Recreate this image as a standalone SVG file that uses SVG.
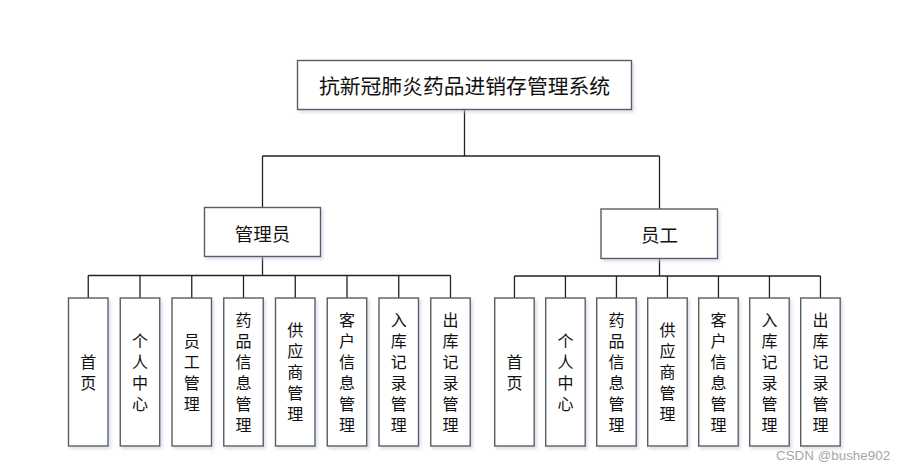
<svg xmlns="http://www.w3.org/2000/svg" width="905" height="471" viewBox="0 0 905 471">
<defs>
<filter id="sh" x="-20%" y="-20%" width="150%" height="150%">
<feDropShadow dx="2" dy="2.5" stdDeviation="1.8" flood-color="#b9c8e0" flood-opacity="0.55"/>
</filter>
</defs>
<style>
.box{fill:#ffffff;stroke:#5c5c5c;stroke-width:1.4;filter:url(#sh)}
.cn{font-family:"Noto Sans CJK SC","Noto Sans",sans-serif;fill:#111;text-anchor:middle}
.t1{font-size:20.8px}
.t2{font-size:18.5px}
.t3{font-size:16px}
.ln{fill:none;stroke:#222;stroke-width:1.3}
.wm{font-family:"Liberation Sans",Arial,sans-serif;font-size:13.4px;fill:#a6a6a6}
</style>
<rect width="905" height="471" fill="#ffffff"/>
<g id="connectors" class="ln">
<path d="M464.5,110 V156 M262.5,156 H659.5 M262.5,156 V207.5 M659.5,156 V209"/>
<path d="M262.5,257 V275.5 M88.25,275.5 H450.5 M88.25,275.5 V298 M140,275.5 V298 M191.75,275.5 V298 M243.5,275.5 V298 M295.25,275.5 V298 M347,275.5 V298 M398.75,275.5 V298 M450.5,275.5 V298"/>
<path d="M659.5,258.5 V276 M514.45,276 H820.45 M514.45,276 V298 M565.45,276 V298 M616.45,276 V298 M667.45,276 V298 M718.45,276 V298 M769.45,276 V298 M820.45,276 V298"/>
</g>
<g id="root"><rect class="box" x="297.5" y="60.5" width="334" height="49"/><text class="cn t1" x="464.5" y="85" dominant-baseline="central">抗新冠肺炎药品进销存管理系统</text></g>
<g id="admin"><rect class="box" x="204.5" y="207.5" width="116" height="49"/><text class="cn t2" x="262.5" y="232.5" dominant-baseline="central">管理员</text></g>
<g id="staff"><rect class="box" x="601" y="209" width="116.5" height="49.5"/><text class="cn t2" x="659.5" y="233.5" dominant-baseline="central">员工</text></g>

<g id="a1"><rect class="box" x="68.5" y="298" width="39.5" height="148"/><text class="cn t3" dominant-baseline="central"><tspan x="88.25" y="360.5">首</tspan><tspan x="88.25" dy="21">页</tspan></text></g>
<g id="a2"><rect class="box" x="120.25" y="298" width="39.5" height="148"/><text class="cn t3" dominant-baseline="central"><tspan x="140" y="339.5">个</tspan><tspan x="140" dy="21">人</tspan><tspan x="140" dy="21">中</tspan><tspan x="140" dy="21">心</tspan></text></g>
<g id="a3"><rect class="box" x="172" y="298" width="39.5" height="148"/><text class="cn t3" dominant-baseline="central"><tspan x="191.75" y="339.5">员</tspan><tspan x="191.75" dy="21">工</tspan><tspan x="191.75" dy="21">管</tspan><tspan x="191.75" dy="21">理</tspan></text></g>
<g id="a4"><rect class="box" x="223.75" y="298" width="39.5" height="148"/><text class="cn t3" dominant-baseline="central"><tspan x="243.5" y="318.5">药</tspan><tspan x="243.5" dy="21">品</tspan><tspan x="243.5" dy="21">信</tspan><tspan x="243.5" dy="21">息</tspan><tspan x="243.5" dy="21">管</tspan><tspan x="243.5" dy="21">理</tspan></text></g>
<g id="a5"><rect class="box" x="275.5" y="298" width="39.5" height="148"/><text class="cn t3" dominant-baseline="central"><tspan x="295.25" y="329">供</tspan><tspan x="295.25" dy="21">应</tspan><tspan x="295.25" dy="21">商</tspan><tspan x="295.25" dy="21">管</tspan><tspan x="295.25" dy="21">理</tspan></text></g>
<g id="a6"><rect class="box" x="327.25" y="298" width="39.5" height="148"/><text class="cn t3" dominant-baseline="central"><tspan x="347" y="318.5">客</tspan><tspan x="347" dy="21">户</tspan><tspan x="347" dy="21">信</tspan><tspan x="347" dy="21">息</tspan><tspan x="347" dy="21">管</tspan><tspan x="347" dy="21">理</tspan></text></g>
<g id="a7"><rect class="box" x="379" y="298" width="39.5" height="148"/><text class="cn t3" dominant-baseline="central"><tspan x="398.75" y="318.5">入</tspan><tspan x="398.75" dy="21">库</tspan><tspan x="398.75" dy="21">记</tspan><tspan x="398.75" dy="21">录</tspan><tspan x="398.75" dy="21">管</tspan><tspan x="398.75" dy="21">理</tspan></text></g>
<g id="a8"><rect class="box" x="430.75" y="298" width="39.5" height="148"/><text class="cn t3" dominant-baseline="central"><tspan x="450.5" y="318.5">出</tspan><tspan x="450.5" dy="21">库</tspan><tspan x="450.5" dy="21">记</tspan><tspan x="450.5" dy="21">录</tspan><tspan x="450.5" dy="21">管</tspan><tspan x="450.5" dy="21">理</tspan></text></g>

<g id="s1"><rect class="box" x="494.7" y="298" width="39.5" height="148"/><text class="cn t3" dominant-baseline="central"><tspan x="514.45" y="360.5">首</tspan><tspan x="514.45" dy="21">页</tspan></text></g>
<g id="s2"><rect class="box" x="545.7" y="298" width="39.5" height="148"/><text class="cn t3" dominant-baseline="central"><tspan x="565.45" y="339.5">个</tspan><tspan x="565.45" dy="21">人</tspan><tspan x="565.45" dy="21">中</tspan><tspan x="565.45" dy="21">心</tspan></text></g>
<g id="s3"><rect class="box" x="596.7" y="298" width="39.5" height="148"/><text class="cn t3" dominant-baseline="central"><tspan x="616.45" y="318.5">药</tspan><tspan x="616.45" dy="21">品</tspan><tspan x="616.45" dy="21">信</tspan><tspan x="616.45" dy="21">息</tspan><tspan x="616.45" dy="21">管</tspan><tspan x="616.45" dy="21">理</tspan></text></g>
<g id="s4"><rect class="box" x="647.7" y="298" width="39.5" height="148"/><text class="cn t3" dominant-baseline="central"><tspan x="667.45" y="329">供</tspan><tspan x="667.45" dy="21">应</tspan><tspan x="667.45" dy="21">商</tspan><tspan x="667.45" dy="21">管</tspan><tspan x="667.45" dy="21">理</tspan></text></g>
<g id="s5"><rect class="box" x="698.7" y="298" width="39.5" height="148"/><text class="cn t3" dominant-baseline="central"><tspan x="718.45" y="318.5">客</tspan><tspan x="718.45" dy="21">户</tspan><tspan x="718.45" dy="21">信</tspan><tspan x="718.45" dy="21">息</tspan><tspan x="718.45" dy="21">管</tspan><tspan x="718.45" dy="21">理</tspan></text></g>
<g id="s6"><rect class="box" x="749.7" y="298" width="39.5" height="148"/><text class="cn t3" dominant-baseline="central"><tspan x="769.45" y="318.5">入</tspan><tspan x="769.45" dy="21">库</tspan><tspan x="769.45" dy="21">记</tspan><tspan x="769.45" dy="21">录</tspan><tspan x="769.45" dy="21">管</tspan><tspan x="769.45" dy="21">理</tspan></text></g>
<g id="s7"><rect class="box" x="800.7" y="298" width="39.5" height="148"/><text class="cn t3" dominant-baseline="central"><tspan x="820.45" y="318.5">出</tspan><tspan x="820.45" dy="21">库</tspan><tspan x="820.45" dy="21">记</tspan><tspan x="820.45" dy="21">录</tspan><tspan x="820.45" dy="21">管</tspan><tspan x="820.45" dy="21">理</tspan></text></g>

<text class="wm" x="776" y="460">CSDN @bushe902</text>
</svg>
